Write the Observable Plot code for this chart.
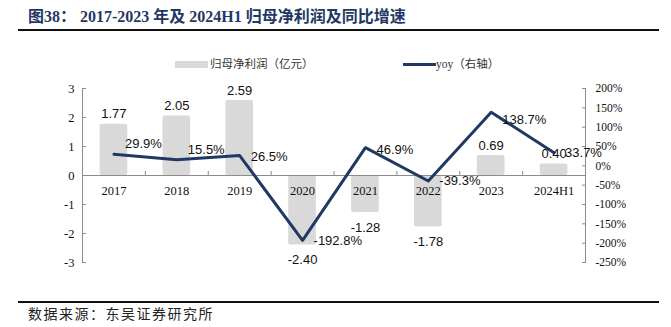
<!DOCTYPE html>
<html><head><meta charset="utf-8">
<script src="https://cdn.jsdelivr.net/npm/d3@7"></script>
<script src="https://cdn.jsdelivr.net/npm/@observablehq/plot@0.6"></script>
<style>
body{margin:0;background:#fff;}
#wrap{position:relative;width:671px;height:327px;overflow:hidden;font-family:"Liberation Serif","Noto Sans CJK SC",serif;}
#title{position:absolute;left:28px;top:3px;font-size:16px;font-weight:bold;color:#1f3864;white-space:nowrap;}
.hr{position:absolute;left:18px;width:641px;height:2px;background:#111;}
#src{position:absolute;left:28px;top:303px;font-family:"Noto Sans CJK SC";font-size:14px;color:#222;letter-spacing:1.5px;white-space:nowrap;}
.leg{position:absolute;top:56px;font-family:"Liberation Serif","Noto Sans CJK SC";font-size:11.5px;color:#333;white-space:nowrap;line-height:16px;}
#chart{position:absolute;left:0;top:0;}
</style></head>
<body><div id="wrap">
<div id="title">图38：&nbsp;2017-2023 年及 2024H1 归母净利润及同比增速</div>
<div class="hr" style="top:29px"></div>
<div class="leg" style="left:175px"><span style="display:inline-block;width:33px;height:7px;background:#d9d9d9;vertical-align:middle;margin-right:2px;position:relative;top:-1px"></span>归母净利润（亿元）</div>
<div class="leg" style="left:403px"><span style="display:inline-block;width:33px;height:3px;background:#1f3864;vertical-align:middle;position:relative;top:-1px"></span>yoy（右轴）</div>
<div id="chart"></div>
<div class="hr" style="top:301px"></div>
<div id="src">数据来源：东吴证券研究所</div>
</div>
<script>
const categories = ["2017","2018","2019","2020","2021","2022","2023","2024H1"];
const profit = [1.77, 2.05, 2.59, -2.40, -1.28, -1.78, 0.69, 0.40];
const yoy = [29.9, 15.5, 26.5, -192.8, 46.9, -39.3, 138.7, 33.7];
const leftTicks = [-3, -2, -1, 0, 1, 2, 3];
const rightTicks = [200, 150, 100, 50, 0, -50, -100, -150, -200, -250];
const yoyLabelDy = [-10, -10, 1, 0, 2, 0, 8, 0];

const rMin = -250, rMax = 200, lMin = -3, lMax = 3;
const toLeft = p => lMin + (p - rMin) / (rMax - rMin) * (lMax - lMin);
const toRight = v => rMin + (v - lMin) / (lMax - lMin) * (rMax - rMin);

const data = categories.map((c, i) => ({c, i, profit: profit[i], yoy: yoy[i], ly: toLeft(yoy[i]), dy: yoyLabelDy[i]}));
const gray = "#8c8c8c";
const navy = "#1f3864";
const labelFont = {fontFamily: "Liberation Sans", fontSize: 13, fill: "#111"};

const chart = Plot.plot({
  width: 671, height: 327,
  marginLeft: 82, marginRight: 86, marginTop: 88, marginBottom: 65,
  x: {type: "linear", domain: [0, categories.length], axis: null},
  y: {domain: [lMin, lMax], axis: null},
  style: {background: "transparent", fontFamily: "Liberation Serif"},
  marks: [
    Plot.rectY(data, {x1: d => d.i + 0.28, x2: d => d.i + 0.72, y1: 0, y2: "profit", fill: "#d9d9d9", rx: 2}),
    Plot.ruleY([0], {stroke: gray, strokeWidth: 1}),
    Plot.ruleX([0, categories.length], {y1: lMin, y2: lMax, stroke: gray}),
    Plot.ruleX(d3.range(1, categories.length), {x: d => d, y1: 0, y2: 0.14, stroke: gray}),
    Plot.axisY(leftTicks, {anchor: "left", label: null, tickSize: 4, insetLeft: 4, tickPadding: 8, stroke: gray, fontSize: 12.5, fill: "#111", tickFormat: d => String(d)}),
    Plot.axisY(rightTicks.map(toLeft), {anchor: "right", label: null, tickSize: 4, insetRight: 4, tickPadding: 10, stroke: gray, fontSize: 11.5, fill: "#111", tickFormat: d => Math.round(toRight(d)) + "%"}),
    Plot.text(data, {x: d => d.i + 0.5, y: 0, text: "c", dy: 15, fontSize: 12.5, fill: "#111", fontFamily: "Liberation Serif"}),
    Plot.line(data, {x: d => d.i + 0.5, y: "ly", stroke: navy, strokeWidth: 3}),
    Plot.text(data.filter(d => d.profit >= 0), {x: d => d.i + 0.5, y: "profit", text: d => d.profit.toFixed(2), dy: -10, ...labelFont}),
    Plot.text(data.filter(d => d.profit < 0), {x: d => d.i + 0.5, y: "profit", text: d => d.profit.toFixed(2), dy: 15, ...labelFont}),
    ...data.map(d => Plot.text([d], {x: d => d.i + 0.5, y: "ly", text: d => d.yoy.toFixed(1) + "%", textAnchor: "start", dx: 11, dy: d.dy, ...labelFont}))
  ]
});
document.getElementById("chart").appendChild(chart);
</script>
</body></html>
